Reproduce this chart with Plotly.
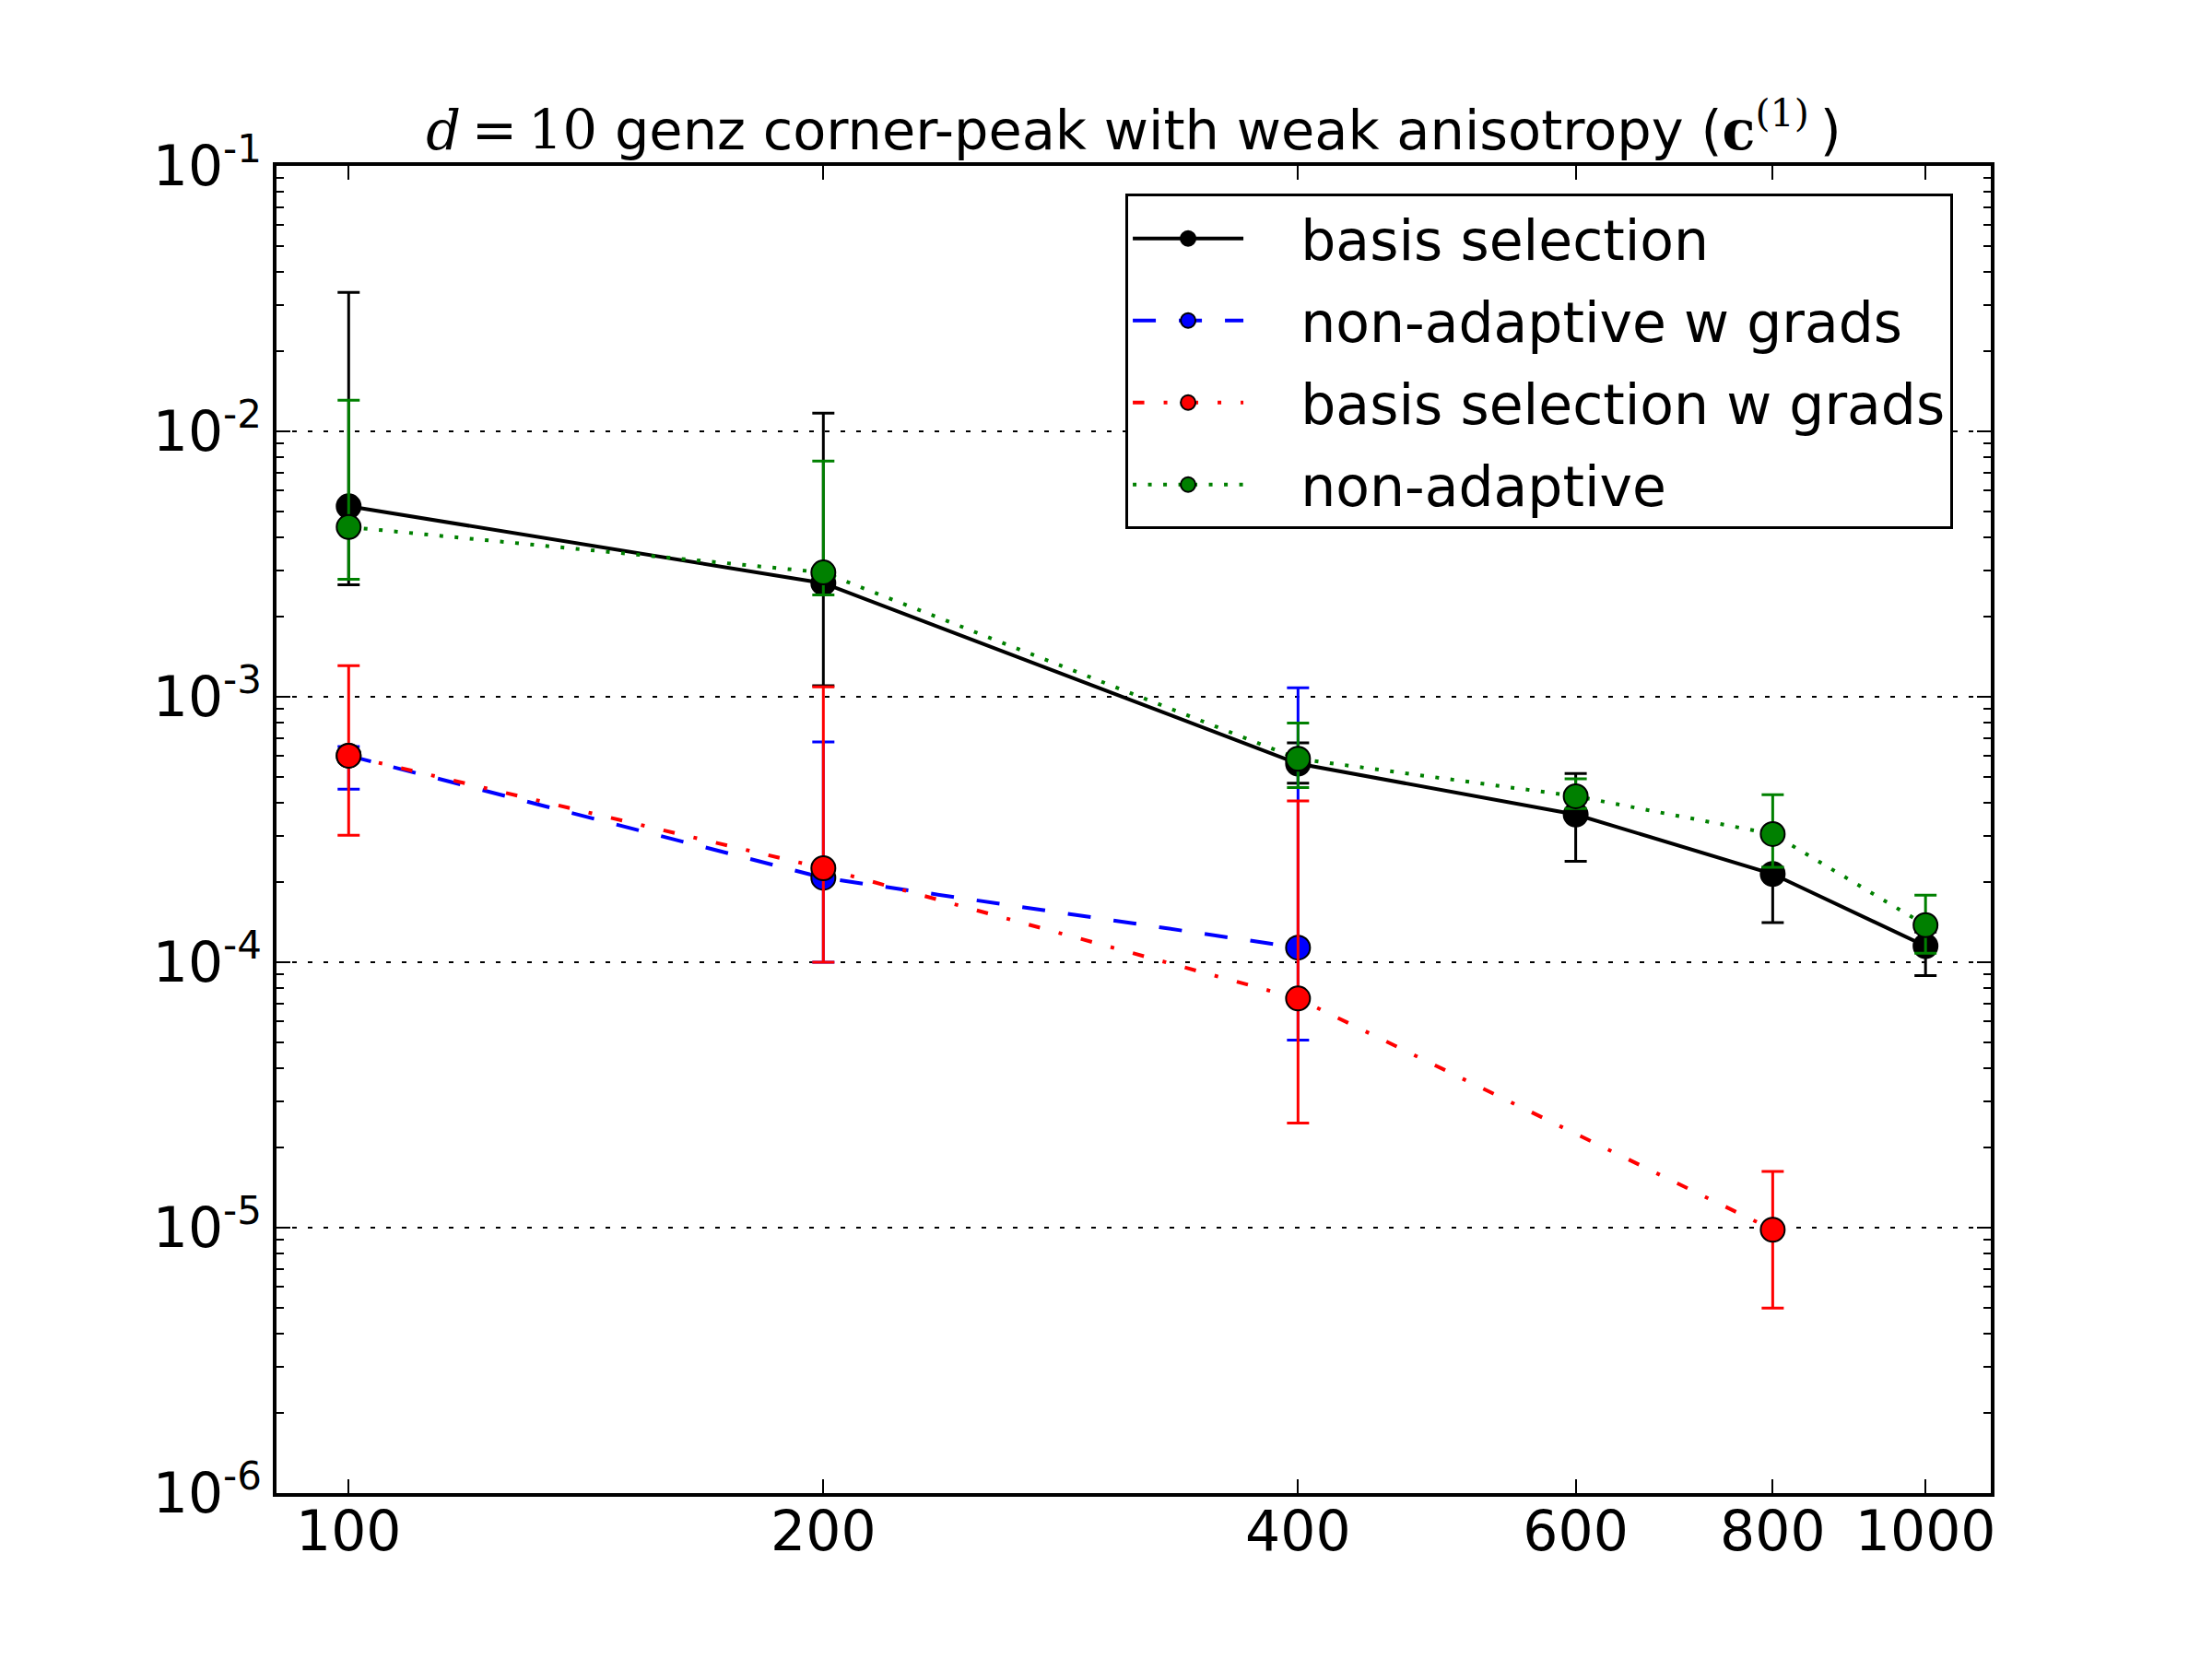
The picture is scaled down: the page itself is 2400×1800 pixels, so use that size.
import numpy as np
import plotly.graph_objects as go

# ---------------- data ----------------
x_all = [100, 200, 400, 600, 800, 1000]

bs_y = [5.22e-3, 2.68e-3, 5.60e-4, 3.60e-4, 2.15e-4, 1.15e-4]
bs_hi = [3.34e-2, 1.17e-2, 6.70e-4, 5.14e-4, 2.28e-4, 1.30e-4]
bs_lo = [2.64e-3, 1.10e-3, 4.73e-4, 2.40e-4, 1.41e-4, 8.9e-5]

nag_x = [100, 200, 400]
nag_y = [6.0e-4, 2.08e-4, 1.135e-4]
nag_hi = [6.5e-4, 6.76e-4, 1.08e-3]
nag_lo = [4.49e-4, 1.0e-4, 5.09e-5]

bsg_x = [100, 200, 400, 800]
bsg_y = [6.0e-4, 2.26e-4, 7.30e-5, 9.82e-6]
bsg_hi = [1.31e-3, 1.09e-3, 4.05e-4, 1.63e-5]
bsg_lo = [3.01e-4, 1.0e-4, 2.48e-5, 4.98e-6]

na_y = [4.36e-3, 2.94e-3, 5.84e-4, 4.22e-4, 3.04e-4, 1.38e-4]
na_hi = [1.31e-2, 7.72e-3, 7.97e-4, 4.91e-4, 4.28e-4, 1.79e-4]
na_lo = [2.77e-3, 2.42e-3, 4.55e-4, 3.79e-4, 2.28e-4, 1.08e-4]

x_ticks = [100, 200, 400, 600, 800, 1000]
x_ticktext = ["100", "200", "400", "600", "800", "1000"]
y_ticks = [1e-6, 1e-5, 1e-4, 1e-3, 1e-2, 1e-1]
y_ticktext = ["10<sup>-6</sup>", "10<sup>-5</sup>", "10<sup>-4</sup>",
              "10<sup>-3</sup>", "10<sup>-2</sup>", "10<sup>-1</sup>"]
y_minor = [m * 10.0 ** k for k in range(-6, -1) for m in range(2, 10)]

series = [
    ("basis selection", x_all, bs_y, bs_hi, bs_lo, "black", "solid"),
    ("non-adaptive w grads", nag_x, nag_y, nag_hi, nag_lo, "blue", "25px,25px"),
    ("basis selection w grads", bsg_x, bsg_y, bsg_hi, bsg_lo, "red", "12.5px,21px,4px,21px"),
    ("non-adaptive", x_all, na_y, na_hi, na_lo, "green", "4px,12.5px"),
]

FONT = "DejaVu Sans"
PAD = "\u00a0\u00a0\u00a0"
fig = go.Figure()
for i, (name, xs, ys, hi, lo, col, dash) in enumerate(series):
    ys_a = np.array(ys)
    fig.add_trace(go.Scatter(
        x=xs, y=ys, name=PAD + name, mode="lines+markers", legendgroup=f"g{i}",
        line=dict(color=col, width=4, dash=dash),
        marker=dict(color=col, size=26, line=dict(color="black", width=2)),
        error_y=dict(type="data", symmetric=False,
                     array=list(np.array(hi) - ys_a),
                     arrayminus=list(ys_a - np.array(lo)),
                     color=col, thickness=3, width=12),
    ))

title = ('<span style="font-family:DejaVu Serif"><i>d</i>\u2009=\u200910</span> genz corner-peak with weak anisotropy '
         '(<span style="font-family:DejaVu Serif"><b>c</b><sup>(1)</sup></span>\u2009)')

fig.update_layout(
    width=2400, height=1800, autosize=False,
    margin=dict(l=300, r=240, t=180, b=180),
    paper_bgcolor="white", plot_bgcolor="white",
    font=dict(family=FONT, size=60, color="black"),
    title=dict(text=title, x=0.5, xref="paper", xanchor="center",
               y=1, yref="paper", yanchor="bottom", pad=dict(b=18),
               font=dict(family=FONT, size=59, color="black")),
    showlegend=True,
    legend=dict(x=0.4952, y=0.979, xanchor="left", yanchor="top",
                bgcolor="white", bordercolor="black", borderwidth=3,
                font=dict(family=FONT, size=60, color="black"),
                itemwidth=120, tracegroupgap=8, traceorder="grouped"),
)

fig.update_xaxes(
    type="log", range=[np.log10(90), np.log10(1100)],
    tickvals=x_ticks, ticktext=x_ticktext,
    ticks="inside", ticklen=15, tickwidth=2, tickcolor="black",
    showline=True, linecolor="black", linewidth=4, mirror="ticks",
    showgrid=False, zeroline=False, ticklabelstandoff=-14,
    tickfont=dict(family=FONT, size=60, color="black"),
)
fig.update_yaxes(
    type="log", range=[-6, -1],
    tickvals=y_ticks, ticktext=y_ticktext,
    ticks="inside", ticklen=15, tickwidth=2, tickcolor="black",
    showline=True, linecolor="black", linewidth=4, mirror="ticks",
    showgrid=True, gridcolor="black", gridwidth=2, griddash="5px,12px",
    zeroline=False,
    minor=dict(tickvals=y_minor, ticks="inside", ticklen=8, tickwidth=2,
               tickcolor="black", showgrid=False),
    tickfont=dict(family=FONT, size=60, color="black"),
)

fig.write_html("out.html", config={"displayModeBar": False},
               post_script="document.body.style.margin='0';document.body.style.overflow='hidden';")
